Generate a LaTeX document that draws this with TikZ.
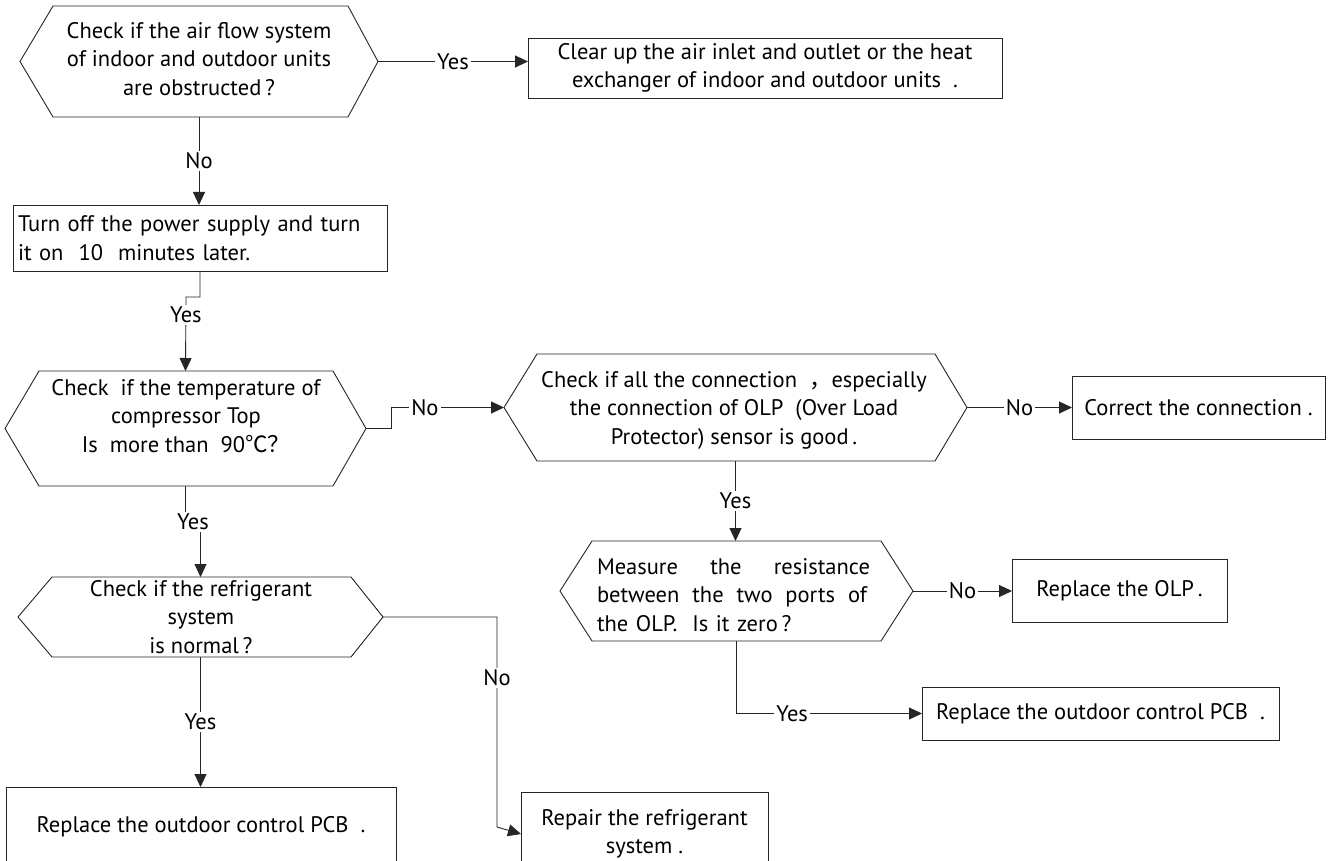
\documentclass[tikz,border=0pt]{standalone}
\usepackage{fontspec}
\setmainfont{PT Sans}
\newfontfamily\cjk{Noto Sans CJK SC}
\usetikzlibrary{arrows.meta,calc}
\newcommand\hexnode[7]{% name, cx, cy, width, height, left chamfer, right chamfer
  \node[hexframe, minimum width=#4pt, minimum height=#5pt] (#1) at (#2,#3) {};
  \draw[shapeline] (#1.west) -- ([xshift=#6pt]#1.north west) -- ([xshift=-#7pt]#1.north east)
    -- (#1.east) -- ([xshift=-#7pt]#1.south east) -- ([xshift=#6pt]#1.south west) -- cycle;}
\tikzset{
  shapeline/.style={draw=black!85, line width=0.9pt},
  hexframe/.style={draw=none, inner sep=0pt, outer sep=0pt},
  hextext/.style={inner sep=0pt, align=center, font=\fontsize{22.5}{28.5}\selectfont},
  box/.style={shapeline, inner sep=5pt, outer sep=0pt, align=center, font=\fontsize{22.5}{28.5}\selectfont},
  conn/.style={draw=black!85, line width=0.9pt},
  arr/.style={conn, -{Triangle[length=13pt,width=12pt]}},
  lbl/.style={fill=white, inner sep=2pt, font=\fontsize{22.5}{28.5}\selectfont}
}
\begin{document}
\begin{tikzpicture}[x=1pt,y=-1pt]
\useasboundingbox (0,0) rectangle (1330,861);
\clip (0,0) rectangle (1330,861);
\fill[white] (0,0) rectangle (1330,861);

% hexagons
\hexnode{h1}{199}{61.5}{358}{111}{33}{30}
\node[hextext] (h1t) at (199,59) {Check if the air flow system\\of indoor and outdoor units\\are obstructed\,?};

\hexnode{h2}{185.5}{428.5}{361}{115}{34}{33}
\node[hextext] (h2t) at (186,416) {Check\ \ if the temperature of\\compressor Top\\Is\ \ more than\ \ 90{\cjk ℃？}};

\hexnode{h3}{735.5}{407.5}{463}{107}{33}{32}
\node[hextext] (h3t) at (734,410) {Check if all the connection\ \ {\cjk ，}especially\\the connection of OLP\ \ (Over Load\\Protector) sensor is good\,.};

\hexnode{h4}{736.5}{591}{353}{100}{32}{32}
\node[hextext, align=left, text width=273pt] (h4t) at (733.5,595) {\makebox[273pt][l]{Measure\hfill the\hfill resistance}\\\makebox[270pt][l]{between\hfill the\hfill two\hfill ports\hfill of}\\the OLP.\ \ Is it zero\,?};

\hexnode{h5}{200.5}{617}{365}{80}{34}{32}
\node[hextext] (h5t) at (201,617) {Check if the refrigerant\\system\\is normal\,?};

% boxes
\node[box, minimum width=474pt, minimum height=60pt] (b1) at (765,68) {Clear up the air inlet and outlet or the heat\\exchanger of indoor and outdoor units\ \ .};
\node[box, minimum width=374pt, minimum height=66pt, align=left, text width=364pt] (b2) at (200,238) {Turn off the power supply and turn\\it on\ \ 10\ \ minutes later.};
\node[box, minimum width=253pt, minimum height=63pt] (b3) at (1198.5,407.5) {Correct the connection\ .};
\node[box, minimum width=215pt, minimum height=63pt] (b4) at (1119.5,590.5) {Replace the OLP\,.};
\node[box, minimum width=357pt, minimum height=53pt] (b5) at (1100.5,713.5) {Replace the outdoor control PCB\ \ .};
\node[box, minimum width=390pt, minimum height=80pt] (b6) at (201,827) {Replace the outdoor control PCB\ \ .};
\node[box, minimum width=247pt, minimum height=84pt] (b7) at (644.5,834) {Repair the refrigerant\\system\ .};

% bend coordinates
\coordinate (j1) at (200,297);
\coordinate (j2) at (186,297);
\coordinate (j3) at (391,428.5);
\coordinate (j4) at (391,407.5);
\coordinate (j5) at (185.5,522);
\coordinate (j6) at (200.5,522);
\coordinate (j7) at (497,617);
\coordinate (j8) at (497,827);
\coordinate (j9) at (736.5,713.5);

% connectors
\draw[arr] (h1.east) -- node[lbl]{Yes} (h1.east -| b1.west);
\draw[arr] (h1.south) -- node[lbl]{No} (h1.south |- b2.north);
\draw[arr] (b2.south) -- (j1) -- (j2) -- node[lbl, pos=0.24]{Yes} (h2.north);
\draw[arr] (h2.east) -- (j3) -- (j4) -- node[lbl, pos=0.3]{No} (h3.west);
\draw[arr] (h3.east) -- node[lbl]{No} (h3.east -| b3.west);
\draw[arr] (h3.south) -- node[lbl]{Yes} (h3.south |- h4.north);
\draw[arr] (h4.east) -- node[lbl]{No} (h4.east -| b4.west);
\draw[arr] (h4.south) -- (j9) -- node[lbl, pos=0.3]{Yes} (b5.west);
\draw[arr] (h2.south) -- (j5) -- node[lbl]{Yes} (j6) -- (h5.north);
\draw[arr] (h5.south) -- node[lbl]{Yes} (h5.south |- b6.north);
\draw[arr] (h5.east) -- (j7) -- node[lbl, pos=0.29]{No} (j8) -- (b7.west);
\end{tikzpicture}
\end{document}
